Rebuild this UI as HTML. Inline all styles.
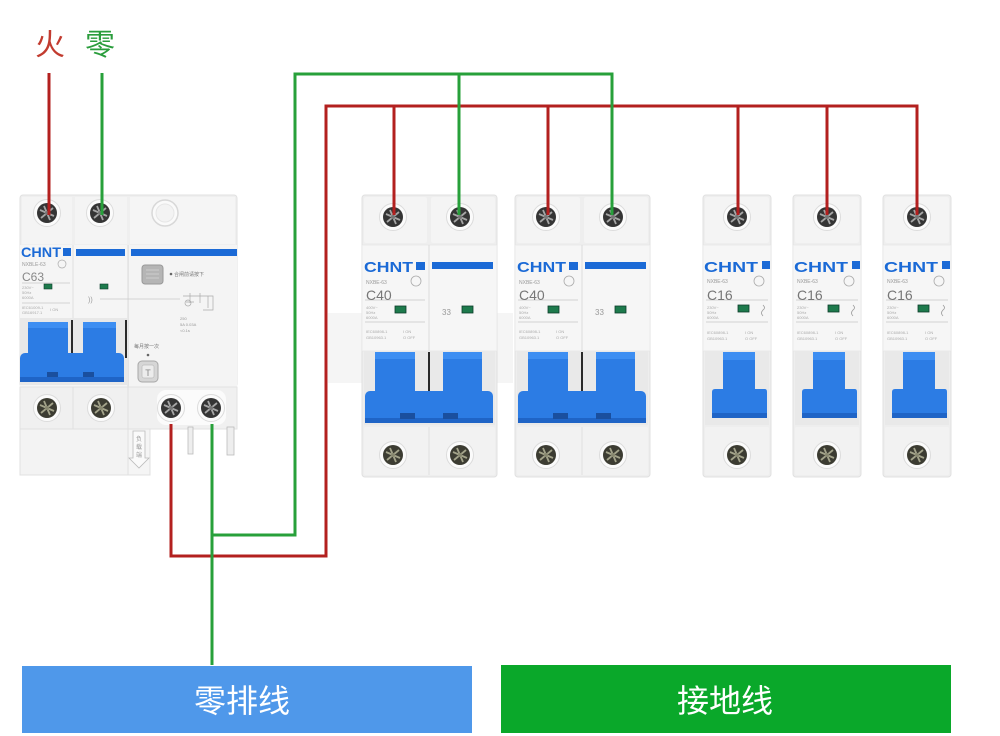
<!DOCTYPE html>
<html><head><meta charset="utf-8">
<style>
html,body{margin:0;padding:0;background:#fff;}
svg{display:block;}
text{font-family:"Liberation Sans","Noto Sans CJK SC",sans-serif;}
</style></head><body>
<svg width="1000" height="736" viewBox="0 0 1000 736" xmlns="http://www.w3.org/2000/svg">
<defs>
<g id="scr"><circle r="13.5" fill="#fbfbfb" stroke="#dcdcdc" stroke-width="1"/><circle r="10" fill="#353535"/><path d="M-7,-3L7,3M-3,-7L3,7M-6,5L6,-5" stroke="#a5a5a5" stroke-width="1.8"/><circle r="2" fill="#777"/></g>
<g id="scrb"><circle r="13.5" fill="#fbfbfb" stroke="#dcdcdc" stroke-width="1"/><circle r="10" fill="#3c3c32"/><path d="M-7,-3L7,3M-3,-7L3,7M-6,5L6,-5" stroke="#a3a38a" stroke-width="1.8"/><circle r="2" fill="#888870"/></g>
<g id="p1">
<rect x="0" y="0" width="68" height="282" rx="3" fill="#eeeeee" stroke="#e0e0e0"/>
<rect x="2" y="2" width="64" height="46" rx="2" fill="#f4f4f4"/>
<rect x="0" y="50" width="68" height="106" fill="#f6f6f6" stroke="#e4e4e4" stroke-width="0.6"/>
<line x1="3" y1="105" x2="65" y2="105" stroke="#c4c4c4" stroke-width="0.8"/>
<line x1="3" y1="127" x2="65" y2="127" stroke="#c4c4c4" stroke-width="0.8"/>
<rect x="59" y="66" width="8" height="8" fill="#1b6ad6"/>
<rect x="35" y="110" width="11" height="7" fill="#1d7a4c" stroke="#0d3d2a" stroke-width="0.8"/>
<path d="M60,110 q3,3 0,5 q-3,3 0,6" fill="none" stroke="#999" stroke-width="0.8"/>
<circle cx="56" cy="86" r="5" fill="none" stroke="#aaa" stroke-width="0.8"/>
<rect x="2" y="156" width="64" height="74" fill="#e9e9e9"/>
<path d="M20,157 H52 V194 H62 Q64,194 64,197 V220 Q64,223 61,223 H12 Q9,223 9,220 V197 Q9,194 12,194 H20 Z" fill="#2c7ce4"/>
<rect x="20" y="157" width="32" height="8" fill="#3d8ef2"/>
<rect x="9" y="218" width="55" height="5" fill="#1f64c6"/>
<rect x="2" y="232" width="64" height="48" rx="2" fill="#f2f2f2"/>
<use href="#scr" x="34" y="22"/>
<use href="#scrb" x="34" y="260"/>
</g>
<g id="p2">
<rect x="0" y="0" width="135" height="282" rx="3" fill="#eeeeee" stroke="#e0e0e0"/>
<rect x="2" y="2" width="63" height="46" rx="2" fill="#f4f4f4"/>
<rect x="69" y="2" width="64" height="46" rx="2" fill="#f4f4f4"/>
<rect x="0" y="50" width="135" height="106" fill="#f6f6f6" stroke="#e4e4e4" stroke-width="0.6"/>
<line x1="67" y1="50" x2="67" y2="156" stroke="#dcdcdc"/>
<rect x="70" y="67" width="61" height="7" fill="#1b6ad6"/>
<rect x="54" y="67" width="9" height="8" fill="#1b6ad6"/>
<line x1="3" y1="105" x2="63" y2="105" stroke="#c4c4c4" stroke-width="0.8"/>
<line x1="3" y1="127" x2="63" y2="127" stroke="#c4c4c4" stroke-width="0.8"/>
<circle cx="54" cy="86" r="5" fill="none" stroke="#aaa" stroke-width="0.8"/>
<rect x="33" y="111" width="11" height="7" fill="#1d7a4c" stroke="#0d3d2a" stroke-width="0.8"/>
<rect x="100" y="111" width="11" height="7" fill="#1d7a4c" stroke="#0d3d2a" stroke-width="0.8"/>
<rect x="2" y="156" width="131" height="74" fill="#e9e9e9"/>
<rect x="13" y="157" width="40" height="42" fill="#2c7ce4"/>
<rect x="81" y="157" width="39" height="42" fill="#2c7ce4"/>
<rect x="13" y="157" width="40" height="7" fill="#3d8ef2"/>
<rect x="81" y="157" width="39" height="7" fill="#3d8ef2"/>
<line x1="67" y1="157" x2="67" y2="197" stroke="#2a2a2a" stroke-width="2"/>
<rect x="3" y="196" width="128" height="32" rx="5" fill="#2c7ce4"/>
<rect x="3" y="223" width="128" height="5" fill="#1f64c6"/>
<rect x="38" y="218" width="15" height="6" fill="#1a4f9e"/>
<rect x="81" y="218" width="15" height="6" fill="#1a4f9e"/>
<rect x="2" y="232" width="131" height="48" rx="2" fill="#f2f2f2"/>
<line x1="67" y1="232" x2="67" y2="280" stroke="#e0e0e0"/>
<use href="#scr" x="31" y="22"/>
<use href="#scr" x="98" y="22"/>
<use href="#scrb" x="31" y="260"/>
<use href="#scrb" x="98" y="260"/>
</g>
</defs>

<!-- faint watermark band -->
<rect x="328" y="313" width="185" height="70" fill="#f5f5f5"/>

<!-- top labels -->
<text x="50" y="55" font-size="30" fill="#c23b2f" text-anchor="middle" font-family="Liberation Sans, Noto Sans CJK SC, sans-serif">火</text>
<text x="100" y="55" font-size="30" fill="#2a9d3c" text-anchor="middle" font-family="Liberation Sans, Noto Sans CJK SC, sans-serif">零</text>

<!-- RCD breaker -->
<rect x="20" y="195" width="217" height="192" rx="3" fill="#efefef" stroke="#e0e0e0"/>
<rect x="22" y="197" width="50" height="47" fill="#f4f4f4"/>
<rect x="75" y="197" width="52" height="47" fill="#f4f4f4"/>
<rect x="130" y="197" width="105" height="47" fill="#f5f5f5"/>
<use href="#scr" x="47" y="213"/>
<use href="#scr" x="100" y="213"/>
<circle cx="165" cy="213" r="13" fill="#fafafa" stroke="#d8d8d8" stroke-width="1.5"/>
<circle cx="165" cy="213" r="9" fill="#f3f3f3" stroke="#e6e6e6"/>
<rect x="20" y="245" width="108" height="142" fill="#f5f5f5"/>
<rect x="129" y="245" width="108" height="142" fill="#f4f4f4"/>
<line x1="128" y1="245" x2="128" y2="387" stroke="#dadada"/>
<line x1="73" y1="245" x2="73" y2="318" stroke="#e0e0e0"/>
<text x="21" y="257" font-size="14" font-weight="bold" fill="#1b6ad6" textLength="40" lengthAdjust="spacingAndGlyphs">CHNT</text>
<rect x="63" y="248" width="8" height="8" fill="#1b6ad6"/>
<rect x="76" y="249" width="49" height="7" fill="#1b6ad6"/>
<rect x="131" y="249" width="106" height="7" fill="#1b6ad6"/>
<text x="22" y="266" font-size="5" fill="#999">NXBLE-63</text>
<circle cx="62" cy="264" r="4" fill="none" stroke="#aaa" stroke-width="0.7"/>
<text x="22" y="281" font-size="12" fill="#888">C63</text>
<line x1="22" y1="283" x2="70" y2="283" stroke="#c8c8c8" stroke-width="0.7"/>
<text x="22" y="289" font-size="4" fill="#aaa">230V~</text>
<text x="22" y="294" font-size="4" fill="#aaa">50Hz</text>
<text x="22" y="299" font-size="4" fill="#aaa">6000A</text>
<line x1="22" y1="303" x2="70" y2="303" stroke="#c8c8c8" stroke-width="0.7"/>
<text x="22" y="309" font-size="4" fill="#aaa">IEC61009-1</text>
<text x="22" y="314" font-size="4" fill="#aaa">GB16917.1</text>
<text x="50" y="311" font-size="4" fill="#aaa">I ON</text>
<rect x="44" y="284" width="8" height="5" fill="#1d7a4c" stroke="#0d3d2a" stroke-width="0.6"/>
<rect x="100" y="284" width="8" height="5" fill="#1d7a4c" stroke="#0d3d2a" stroke-width="0.6"/>
<text x="88" y="302" font-size="7" fill="#999">))</text>
<line x1="100" y1="299" x2="180" y2="299" stroke="#c8c8c8" stroke-width="0.7"/>
<rect x="142" y="265" width="21" height="19" rx="3" fill="#b5b5b5" stroke="#999"/>
<path d="M146,270h13M146,274h13M146,278h13" stroke="#d5d5d5" stroke-width="0.8"/>
<circle cx="171" cy="274" r="1.3" fill="#666"/>
<text x="174" y="276" font-size="5" fill="#777" font-family="Liberation Sans, Noto Sans CJK SC, sans-serif">合闸前请按下</text>
<path d="M183,296h30v14h-10M190,293v10M200,293v10M208,296v12M186,302h8" fill="none" stroke="#aaa" stroke-width="0.7"/>
<circle cx="188" cy="303" r="3" fill="none" stroke="#aaa" stroke-width="0.7"/>
<text x="180" y="320" font-size="4" fill="#999">250</text>
<text x="180" y="326" font-size="4" fill="#999">5A 0.03A</text>
<text x="180" y="332" font-size="4" fill="#999">&lt;0.1s</text>
<text x="134" y="348" font-size="5" fill="#777" font-family="Liberation Sans, Noto Sans CJK SC, sans-serif">每月按一次</text>
<circle cx="148" cy="355" r="1.3" fill="#666"/>
<rect x="138" y="361" width="20" height="21" rx="4" fill="#d6d6d6" stroke="#a8a8a8"/>
<rect x="142" y="365" width="12" height="13" rx="2" fill="#ececec" stroke="#bbb" stroke-width="0.7"/>
<text x="148" y="376" font-size="9" fill="#888" text-anchor="middle">T</text>
<rect x="20" y="318" width="107" height="67" fill="#e8e8e8"/>
<line x1="72" y1="320" x2="72" y2="355" stroke="#2a2a2a" stroke-width="2"/>
<line x1="126" y1="320" x2="126" y2="358" stroke="#2a2a2a" stroke-width="2"/>
<rect x="28" y="322" width="40" height="34" fill="#2c7ce4"/>
<rect x="83" y="322" width="33" height="34" fill="#2c7ce4"/>
<rect x="28" y="322" width="40" height="6" fill="#3d8ef2"/>
<rect x="83" y="322" width="33" height="6" fill="#3d8ef2"/>
<rect x="20" y="353" width="104" height="29" rx="5" fill="#2c7ce4"/>
<rect x="20" y="377" width="104" height="5" fill="#1f64c6"/>
<rect x="47" y="372" width="11" height="5" fill="#1a4f9e"/>
<rect x="83" y="372" width="11" height="5" fill="#1a4f9e"/>
<rect x="20" y="387" width="217" height="42" fill="#f0f0f0" stroke="#e2e2e2"/>
<line x1="73" y1="387" x2="73" y2="429" stroke="#e0e0e0"/>
<line x1="128" y1="387" x2="128" y2="429" stroke="#e0e0e0"/>
<rect x="157" y="390" width="69" height="35" rx="9" fill="#fbfbfb"/>
<use href="#scrb" x="47" y="408"/>
<use href="#scrb" x="101" y="408"/>
<use href="#scr" x="171" y="408"/>
<use href="#scr" x="211" y="408"/>
<rect x="20" y="429" width="108" height="46" fill="#f3f3f3" stroke="#e0e0e0"/>
<rect x="128" y="429" width="22" height="46" fill="#f5f5f5" stroke="#e0e0e0"/>
<path d="M133,431h12v27h4l-10,10l-10,-10h4z" fill="#fafafa" stroke="#bbb" stroke-width="0.8"/>
<text x="139" y="441" font-size="6" fill="#999" text-anchor="middle" font-family="Liberation Sans, Noto Sans CJK SC, sans-serif">负</text>
<text x="139" y="449" font-size="6" fill="#999" text-anchor="middle" font-family="Liberation Sans, Noto Sans CJK SC, sans-serif">载</text>
<text x="139" y="457" font-size="6" fill="#999" text-anchor="middle" font-family="Liberation Sans, Noto Sans CJK SC, sans-serif">端</text>
<rect x="188" y="427" width="5" height="27" fill="#eeeeee" stroke="#bbb" stroke-width="0.8"/>
<rect x="227" y="427" width="7" height="28" fill="#eeeeee" stroke="#bbb" stroke-width="0.8"/>

<!-- C40 two-pole breakers -->
<use href="#p2" x="362" y="195"/>
<use href="#p2" x="515" y="195"/>
<g>
<text x="364" y="272" font-size="15" font-weight="bold" fill="#1b6ad6" textLength="49" lengthAdjust="spacingAndGlyphs">CHNT</text>
<text x="366" y="284" font-size="5" fill="#999">NXBE-63</text>
<text x="366" y="300" font-size="14" fill="#777">C40</text>
<text x="366" y="309" font-size="4" fill="#aaa">400V~</text>
<text x="366" y="314" font-size="4" fill="#aaa">50Hz</text>
<text x="366" y="319" font-size="4" fill="#aaa">6000A</text>
<text x="366" y="333" font-size="4" fill="#aaa">IEC60898-1</text>
<text x="366" y="339" font-size="4" fill="#aaa">GB10963.1</text>
<text x="403" y="333" font-size="4" fill="#aaa">I ON</text>
<text x="403" y="339" font-size="4" fill="#aaa">O OFF</text>
<text x="442" y="315" font-size="8" fill="#999">33</text>
<text x="517" y="272" font-size="15" font-weight="bold" fill="#1b6ad6" textLength="49" lengthAdjust="spacingAndGlyphs">CHNT</text>
<text x="519" y="284" font-size="5" fill="#999">NXBE-63</text>
<text x="519" y="300" font-size="14" fill="#777">C40</text>
<text x="519" y="309" font-size="4" fill="#aaa">400V~</text>
<text x="519" y="314" font-size="4" fill="#aaa">50Hz</text>
<text x="519" y="319" font-size="4" fill="#aaa">6000A</text>
<text x="519" y="333" font-size="4" fill="#aaa">IEC60898-1</text>
<text x="519" y="339" font-size="4" fill="#aaa">GB10963.1</text>
<text x="556" y="333" font-size="4" fill="#aaa">I ON</text>
<text x="556" y="339" font-size="4" fill="#aaa">O OFF</text>
<text x="595" y="315" font-size="8" fill="#999">33</text>
</g>

<!-- C16 single-pole breakers -->
<use href="#p1" x="703" y="195"/>
<use href="#p1" x="793" y="195"/>
<use href="#p1" x="883" y="195"/>
<g>
<text x="704" y="272" font-size="15" font-weight="bold" fill="#1b6ad6" textLength="54" lengthAdjust="spacingAndGlyphs">CHNT</text>
<text x="707" y="283" font-size="5" fill="#999">NXBE-63</text>
<text x="707" y="300" font-size="14" fill="#777">C16</text>
<text x="707" y="309" font-size="4" fill="#aaa">230V~</text>
<text x="707" y="314" font-size="4" fill="#aaa">50Hz</text>
<text x="707" y="319" font-size="4" fill="#aaa">6000A</text>
<text x="707" y="334" font-size="4" fill="#aaa">IEC60898-1</text>
<text x="707" y="340" font-size="4" fill="#aaa">GB10963.1</text>
<text x="745" y="334" font-size="4" fill="#aaa">I ON</text>
<text x="745" y="340" font-size="4" fill="#aaa">O OFF</text>
<text x="794" y="272" font-size="15" font-weight="bold" fill="#1b6ad6" textLength="54" lengthAdjust="spacingAndGlyphs">CHNT</text>
<text x="797" y="283" font-size="5" fill="#999">NXBE-63</text>
<text x="797" y="300" font-size="14" fill="#777">C16</text>
<text x="797" y="309" font-size="4" fill="#aaa">230V~</text>
<text x="797" y="314" font-size="4" fill="#aaa">50Hz</text>
<text x="797" y="319" font-size="4" fill="#aaa">6000A</text>
<text x="797" y="334" font-size="4" fill="#aaa">IEC60898-1</text>
<text x="797" y="340" font-size="4" fill="#aaa">GB10963.1</text>
<text x="835" y="334" font-size="4" fill="#aaa">I ON</text>
<text x="835" y="340" font-size="4" fill="#aaa">O OFF</text>
<text x="884" y="272" font-size="15" font-weight="bold" fill="#1b6ad6" textLength="54" lengthAdjust="spacingAndGlyphs">CHNT</text>
<text x="887" y="283" font-size="5" fill="#999">NXBE-63</text>
<text x="887" y="300" font-size="14" fill="#777">C16</text>
<text x="887" y="309" font-size="4" fill="#aaa">230V~</text>
<text x="887" y="314" font-size="4" fill="#aaa">50Hz</text>
<text x="887" y="319" font-size="4" fill="#aaa">6000A</text>
<text x="887" y="334" font-size="4" fill="#aaa">IEC60898-1</text>
<text x="887" y="340" font-size="4" fill="#aaa">GB10963.1</text>
<text x="925" y="334" font-size="4" fill="#aaa">I ON</text>
<text x="925" y="340" font-size="4" fill="#aaa">O OFF</text>
</g>

<!-- wires -->
<g fill="none" stroke-width="3" stroke-linejoin="miter">
<path d="M49,73V215" stroke="#b3201f"/>
<path d="M102,73V215" stroke="#27a03a"/>
<path d="M171,424V556H326V106H917V215" stroke="#b3201f"/>
<path d="M394,106V215M548,106V215M738,106V215M827,106V215" stroke="#b3201f"/>
<path d="M212,424V665M212,535H295V74H612V215M459,74V215" stroke="#27a03a"/>
</g>

<!-- bottom bars -->
<rect x="22" y="666" width="450" height="67" fill="#4f98ea"/>
<text x="242" y="712" font-size="32" fill="#ffffff" text-anchor="middle" font-family="Liberation Sans, Noto Sans CJK SC, sans-serif">零排线</text>
<rect x="501" y="665" width="450" height="68" fill="#0aa82a"/>
<text x="725" y="712" font-size="32" fill="#ffffff" text-anchor="middle" font-family="Liberation Sans, Noto Sans CJK SC, sans-serif">接地线</text>
</svg>
</body></html>
